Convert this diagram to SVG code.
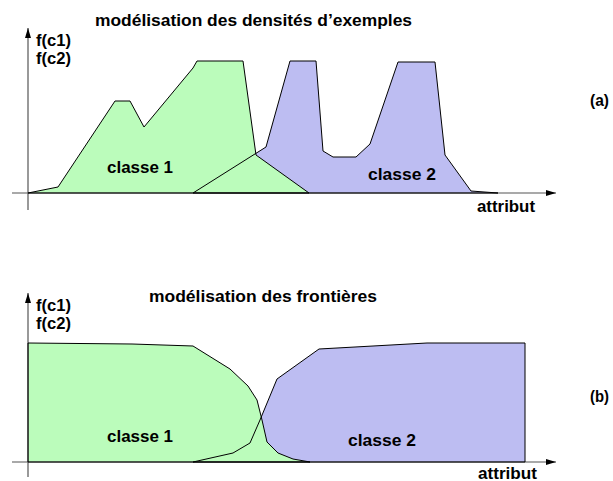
<svg xmlns="http://www.w3.org/2000/svg" xmlns:xlink="http://www.w3.org/1999/xlink" width="613" height="481" viewBox="0 0 613 481">
  <style>
    .lbl { font-family: "Liberation Sans", Arial, Helvetica, sans-serif; font-weight: bold; font-size: 16px; fill: #000; }
    .axis { stroke: #555; stroke-width: 1.2; fill: none; }
    .c1 { fill: #bbfcbb; stroke: none; }
    .c2 { fill: #bdbdf2; stroke: none; }
    .edge { fill: none; stroke: #000; stroke-width: 1; stroke-linejoin: miter; }
  </style>
  <defs>
    <marker id="arrow" viewBox="0 0 10 8" refX="10" refY="4" markerWidth="10" markerHeight="8" markerUnits="userSpaceOnUse" orient="auto">
      <path d="M0,1 L10,4 L0,7 Z" fill="#000"/>
    </marker>
    <polygon id="a-c1" points="28,193 58,187 115,101 130,101 144,127 193,68 197,61 243,61 256,155 309,193"/>
    <polygon id="a-c2" points="193,193 266,147 290,61 316,61 323,151 333,157 356,157 370,144 398,62 435,62 445,155 471,191 498,193"/>
    <polygon id="b-c1" points="28,462 28,343 132,344 193,346 230,369 248,386 257,400 262,420 267,442 278,453 293,459 310,462"/>
    <polygon id="b-c2" points="193,462 233,453 250,443 260,420 277,379 319,349 427,343 525,343 525,462"/>
  </defs>

  <!-- (a) density model -->
  <g id="panel-a">
    <g id="a-fills">
      <use xlink:href="#a-c2" class="c2"/>
      <use xlink:href="#a-c1" class="c1"/>
    </g>
    <g id="a-axes">
      <line class="axis" x1="28" y1="210" x2="28" y2="28" marker-end="url(#arrow)"/>
      <line class="axis" x1="12" y1="193" x2="556" y2="193" marker-end="url(#arrow)"/>
    </g>
    <g id="a-edges">
      <use xlink:href="#a-c2" class="edge"/>
      <use xlink:href="#a-c1" class="edge"/>
    </g>
    <text class="lbl" x="95" y="26" textLength="317" lengthAdjust="spacingAndGlyphs">modélisation des densités d’exemples</text>
    <text class="lbl" x="36" y="46" textLength="35" lengthAdjust="spacingAndGlyphs">f(c1)</text>
    <text class="lbl" x="36" y="64" textLength="35" lengthAdjust="spacingAndGlyphs">f(c2)</text>
    <text class="lbl" x="107" y="173" textLength="66" lengthAdjust="spacingAndGlyphs">classe 1</text>
    <text class="lbl" x="368" y="180" textLength="68" lengthAdjust="spacingAndGlyphs">classe 2</text>
    <text class="lbl" x="477" y="212" textLength="58" lengthAdjust="spacingAndGlyphs">attribut</text>
    <text class="lbl" x="590" y="106" textLength="19" lengthAdjust="spacingAndGlyphs">(a)</text>
  </g>

  <!-- (b) boundary model -->
  <g id="panel-b">
    <g id="b-fills">
      <use xlink:href="#b-c2" class="c2"/>
      <use xlink:href="#b-c1" class="c1"/>
    </g>
    <g id="b-axes">
      <line class="axis" x1="28" y1="477" x2="28" y2="293" marker-end="url(#arrow)"/>
      <line class="axis" x1="12" y1="462" x2="556" y2="462" marker-end="url(#arrow)"/>
    </g>
    <g id="b-edges">
      <use xlink:href="#b-c2" class="edge"/>
      <use xlink:href="#b-c1" class="edge"/>
    </g>
    <text class="lbl" x="149" y="302" textLength="228" lengthAdjust="spacingAndGlyphs">modélisation des frontières</text>
    <text class="lbl" x="36" y="311" textLength="35" lengthAdjust="spacingAndGlyphs">f(c1)</text>
    <text class="lbl" x="36" y="329" textLength="35" lengthAdjust="spacingAndGlyphs">f(c2)</text>
    <text class="lbl" x="107" y="442" textLength="66" lengthAdjust="spacingAndGlyphs">classe 1</text>
    <text class="lbl" x="348" y="446" textLength="68" lengthAdjust="spacingAndGlyphs">classe 2</text>
    <text class="lbl" x="478" y="479" textLength="59" lengthAdjust="spacingAndGlyphs">attribut</text>
    <text class="lbl" x="590" y="402" textLength="19" lengthAdjust="spacingAndGlyphs">(b)</text>
  </g>
</svg>
